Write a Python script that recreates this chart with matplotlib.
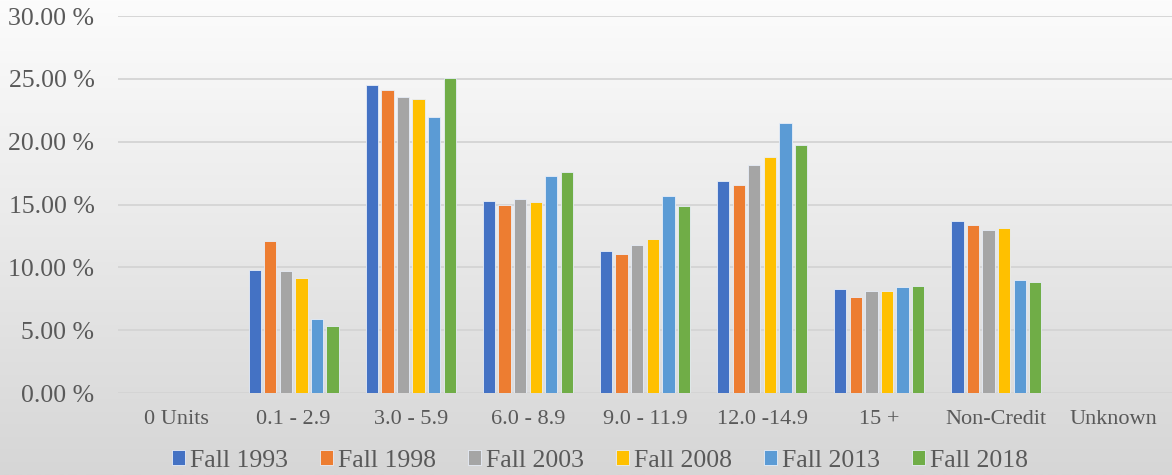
import numpy as np
import matplotlib
matplotlib.use('Agg')
import matplotlib.pyplot as plt

# categories on the x axis
categories = ['0 Units', '0.1 - 2.9', '3.0 - 5.9', '6.0 - 8.9', '9.0 - 11.9',
              '12.0 -14.9', '15 +', 'Non-Credit', 'Unknown']

# percentages per term
fall_1993 = [0, 9.8, 24.5, 15.3, 11.3, 16.9, 8.3, 13.7, 0]
fall_1998 = [0, 12.1, 24.1, 14.95, 11.05, 16.55, 7.65, 13.35, 0]
fall_2003 = [0, 9.7, 23.55, 15.45, 11.75, 18.15, 8.1, 13.0, 0]
fall_2008 = [0, 9.15, 23.4, 15.2, 12.25, 18.75, 8.1, 13.1, 0]
fall_2013 = [0, 5.9, 21.95, 17.25, 15.65, 21.5, 8.4, 9.0, 0]
fall_2018 = [0, 5.35, 25.05, 17.6, 14.85, 19.75, 8.55, 8.8, 0]

series = [fall_1993, fall_1998, fall_2003, fall_2008, fall_2013, fall_2018]
labels = ['Fall 1993', 'Fall 1998', 'Fall 2003', 'Fall 2008', 'Fall 2013', 'Fall 2018']
colors = ['#4472C4', '#ED7D31', '#A5A5A5', '#FFC000', '#5B9BD5', '#70AD47']

plt.rcParams['font.family'] = ['Liberation Serif', 'DejaVu Serif']

fig = plt.figure(figsize=(11.72, 4.75), dpi=100)

# gradient background
bg = fig.add_axes([0, 0, 1, 1], zorder=-10)
grad = np.linspace(0, 1, 256).reshape(-1, 1)
bg.imshow(grad, aspect='auto', cmap=matplotlib.colors.LinearSegmentedColormap.from_list(
    'bg', ['#fcfcfc', '#d6d6d6']), extent=[0, 1, 1, 0])
bg.axis('off')

ax = fig.add_axes([0.1007, 0.1726, 0.8993, 0.7934])
ax.patch.set_alpha(0)

x = np.arange(len(categories))
pitch = 0.133
width = 0.105
for i, (vals, lab, col) in enumerate(zip(series, labels, colors)):
    ax.bar(x + (i - 2.5) * pitch, vals, width, color=col, label=lab,
           edgecolor='#e8eef8', linewidth=0.6, zorder=3)

ax.set_xlim(-0.5, len(categories) - 0.5)
ax.set_ylim(0, 30)
ax.set_yticks(np.arange(0, 31, 5))
ax.set_yticklabels(['%.2f %%' % v for v in np.arange(0, 31, 5)])
ax.set_xticks(x)
ax.set_xticklabels(categories)
ax.yaxis.grid(True, color='#d4d4d4', linewidth=1.3, zorder=0)
for s in ax.spines.values():
    s.set_visible(False)
ax.tick_params(axis='both', length=0, colors='#595959')
ax.tick_params(axis='y', labelsize=18.5, pad=17)
ax.tick_params(axis='x', labelsize=16, pad=12)

fig.legend(loc='center', bbox_to_anchor=(0.512, 0.03), ncol=6, frameon=False,
           fontsize=18.5, handlelength=0.5, handleheight=0.5, handletextpad=0.2,
           columnspacing=1.25, labelcolor='#595959')

fig.savefig('out.png', dpi=100)
